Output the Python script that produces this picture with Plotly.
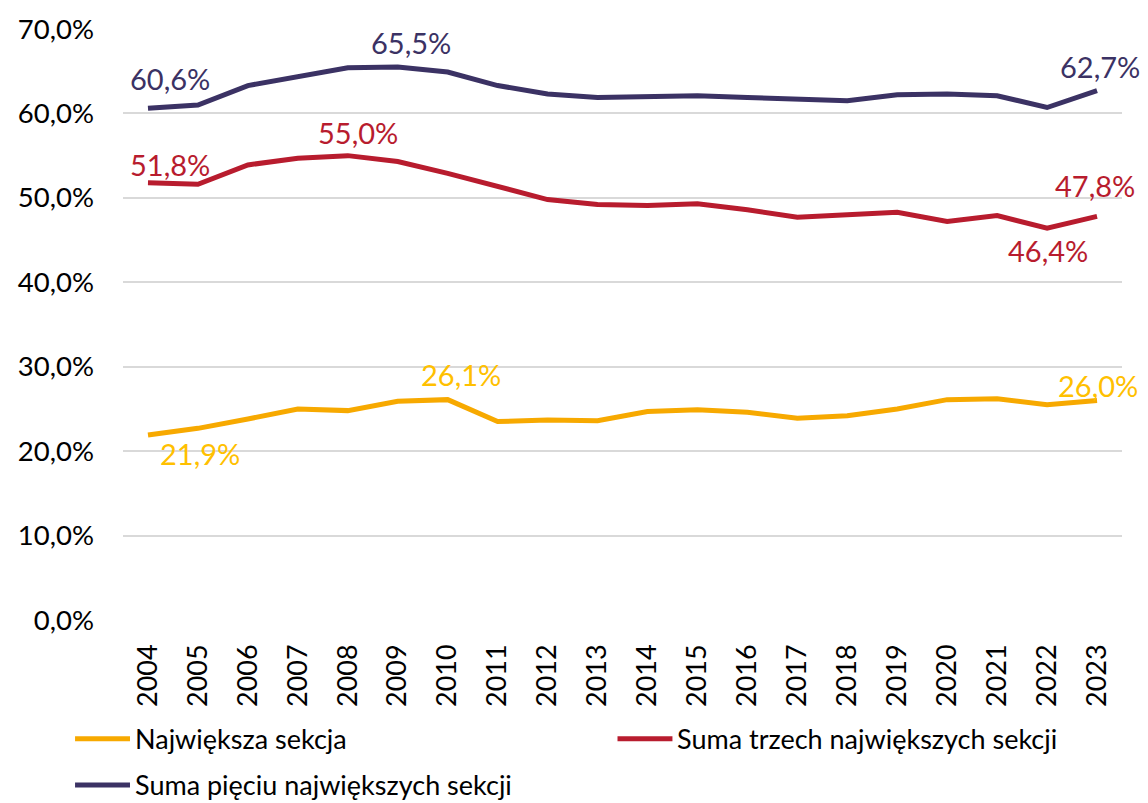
import plotly.graph_objects as go

# Years and shares (%) of the largest sections
years = [str(y) for y in range(2004, 2024)]

najwieksza = [21.9, 22.7, 23.8, 25.0, 24.8, 25.9, 26.1, 23.5, 23.7, 23.6,
              24.7, 24.9, 24.6, 23.9, 24.2, 25.0, 26.1, 26.2, 25.5, 26.0]
suma_trzech = [51.8, 51.6, 53.9, 54.7, 55.0, 54.3, 52.9, 51.4, 49.8, 49.2,
               49.1, 49.3, 48.6, 47.7, 48.0, 48.3, 47.2, 47.9, 46.4, 47.8]
suma_pieciu = [60.6, 61.0, 63.3, 64.4, 65.4, 65.5, 64.9, 63.3, 62.3, 61.9,
               62.0, 62.1, 61.9, 61.7, 61.5, 62.2, 62.3, 62.1, 60.7, 62.7]

series_names = ["Największa sekcja", "Suma trzech największych sekcji",
                "Suma pięciu największych sekcji"]
series_values = [najwieksza, suma_trzech, suma_pieciu]
line_colors = ["#F7A900", "#B81C2E", "#3B3264"]
label_colors = ["#FFC000", "#B81C2E", "#3B3264"]

y_ticks = [0, 10, 20, 30, 40, 50, 60, 70]
y_tick_text = [f"{v:.1f}%".replace(".", ",") for v in y_ticks]

# Labelled points per series: (index, xshift, yshift)
labelled = [
    [(0, 52, -18), (6, 13, 25), (19, 1, 15)],
    [(0, 22, 18), (4, 10, 23), (18, 1, -22), (19, -2, 31)],
    [(0, 22, 30), (5, 13, 24), (19, 3, 24)],
]

FONT = "Lato, 'Open Sans', sans-serif"

fig = go.Figure()
for name, vals, col in zip(series_names, series_values, line_colors):
    fig.add_trace(go.Scatter(
        x=years, y=vals, mode="lines", name=name,
        line=dict(color=col, width=5), showlegend=False,
    ))

# Value labels; on a category axis the position is the category index
for vals, col, pts in zip(series_values, label_colors, labelled):
    for i, dx, dy in pts:
        fig.add_annotation(
            x=i, y=vals[i], xref="x", yref="y",
            text=f"{vals[i]:.1f}%".replace(".", ","),
            showarrow=False, xshift=dx, yshift=dy,
            font=dict(family=FONT, size=29, color=col),
        )

# Legend drawn below the axis in two columns
legend_pos = [(-0.048, -0.201), (0.495, -0.201), (-0.048, -0.279)]
for name, col, (lx, ly) in zip(series_names, line_colors, legend_pos):
    fig.add_shape(type="line", xref="paper", yref="paper",
                  x0=lx, x1=lx + 0.055, y0=ly, y1=ly,
                  line=dict(color=col, width=5))
    fig.add_annotation(xref="paper", yref="paper", x=lx + 0.058, y=ly,
                       xanchor="left", yanchor="middle", showarrow=False,
                       text=name, font=dict(family=FONT, size=27, color="#000000"))

fig.update_layout(
    width=1148, height=803,
    margin=dict(l=123, r=26, t=22, b=183),
    paper_bgcolor="white", plot_bgcolor="white",
    font=dict(family=FONT, color="#000000"),
    xaxis=dict(
        type="category", range=[-0.5, 19.5], tickangle=-90,
        showgrid=False, showline=False, ticks="",
        ticklabelstandoff=18,
        tickfont=dict(family=FONT, size=27, color="#000000"),
    ),
    yaxis=dict(
        range=[0, 70], tickvals=y_ticks, ticktext=y_tick_text,
        showgrid=True, gridcolor="#D9D9D9", gridwidth=1.5,
        zeroline=False, showline=False, ticks="", ticklen=0,
        ticklabelstandoff=28,
        tickfont=dict(family=FONT, size=27.5, color="#000000"),
    ),
)

fig.write_html("out.html")
